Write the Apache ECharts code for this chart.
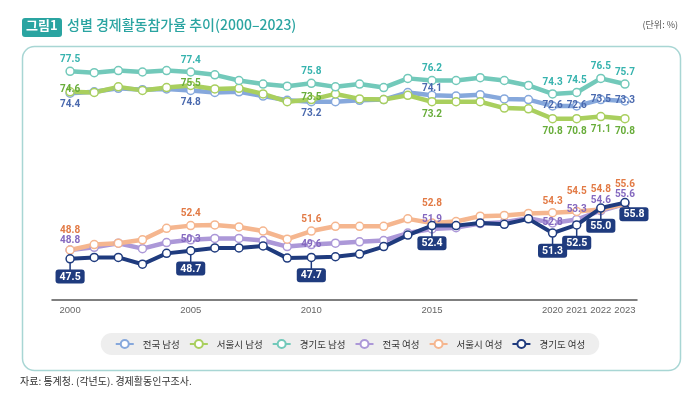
<!DOCTYPE html>
<html>
<head>
<meta charset="utf-8">
<script src="https://cdn.jsdelivr.net/npm/echarts@6/dist/echarts.min.js"></script>
<style>
html, body { margin: 0; padding: 0; background: #fff; }
#chart { width: 700px; height: 397px; }
</style>
</head>
<body>
<div id="chart"></div>
<script>
// 연도 및 표시할 라벨 연도
var years = [2000, 2001, 2002, 2003, 2004, 2005, 2006, 2007, 2008, 2009, 2010, 2011,
             2012, 2013, 2014, 2015, 2016, 2017, 2018, 2019, 2020, 2021, 2022, 2023];
var labelYears = [2000, 2005, 2010, 2015, 2020, 2021, 2022, 2023];

// 남성
var maleNation   = [74.4, 74.6, 75.1, 74.9, 75.0, 74.8, 74.5, 74.6, 74.0, 73.4, 73.2, 73.2,
                    73.4, 73.5, 74.5, 74.1, 74.0, 74.2, 73.6, 73.5, 72.6, 72.6, 73.5, 73.3];
var maleSeoul    = [74.6, 74.5, 75.3, 74.8, 75.2, 75.5, 75.0, 75.1, 74.3, 73.2, 73.5, 74.3,
                    73.6, 73.5, 74.1, 73.2, 73.2, 73.2, 72.3, 72.2, 70.8, 70.8, 71.1, 70.8];
var maleGyeonggi = [77.5, 77.3, 77.6, 77.4, 77.6, 77.4, 77.0, 76.2, 75.7, 75.4, 75.8, 75.3,
                    75.7, 75.2, 76.5, 76.2, 76.2, 76.6, 76.2, 75.5, 74.3, 74.5, 76.5, 75.7];
// 여성
var femaleNation   = [48.8, 49.2, 49.8, 49.0, 49.9, 50.3, 50.5, 50.5, 50.2, 49.3, 49.6, 49.8,
                      50.0, 50.2, 51.3, 51.9, 52.1, 52.7, 52.9, 53.5, 52.8, 53.3, 54.6, 55.6];
var femaleSeoul    = [48.8, 49.6, 49.8, 50.3, 52.0, 52.4, 52.5, 52.2, 51.6, 50.4, 51.6, 52.3,
                      52.3, 52.3, 53.4, 52.8, 53.0, 53.8, 53.9, 54.2, 54.3, 54.5, 54.8, 55.6];
var femaleGyeonggi = [47.5, 47.7, 47.7, 46.7, 48.3, 48.7, 49.1, 49.1, 49.4, 47.6, 47.7, 47.8,
                      48.2, 49.3, 51.0, 52.4, 52.4, 52.8, 52.6, 53.4, 51.3, 52.5, 55.0, 55.8];

var seriesNames = ['전국 남성', '서울시 남성', '경기도 남성', '전국 여성', '서울시 여성', '경기도 여성'];

var numFont = 'Roboto';
var krFont = '"Noto Sans CJK KR", "Noto Sans", sans-serif';

function build (vals, place) {
    return years.map(function (y, i) {
        var item = { value: [y, vals[i]] };
        if (labelYears.indexOf(y) >= 0) {
            item.label = Object.assign({ show: true }, place(y));
        }
        return item;
    });
}

function mkSeries (name, vals, idx, lineColor, textColor, place) {
    return {
        name: name,
        type: 'line',
        xAxisIndex: idx,
        yAxisIndex: idx,
        data: build(vals, place),
        symbol: 'circle',
        symbolSize: 8,
        lineStyle: { color: lineColor, width: 4.5 },
        itemStyle: { color: '#fff', borderColor: lineColor, borderWidth: 1.5 },
        emphasis: { disabled: true },
        label: {
            show: false,
            color: textColor,
            fontSize: 10,
            fontWeight: 'bold',
            fontFamily: numFont,
            formatter: function (p) { return p.value[1].toFixed(1); }
        }
    };
}

var stacked = [2000, 2015, 2021, 2022, 2023];

var series = [
    mkSeries('전국 남성', maleNation, 0, '#86A8DC', '#4A69AE', function (y) {
        if (y <= 2010) return { position: 'bottom', distance: 2 };
        if (y === 2015) return { position: 'inside', offset: [0, -7] };
        return { position: 'inside' };
    }),
    mkSeries('서울시 남성', maleSeoul, 0, '#A9CF5E', '#68AD3A', function (y) {
        if (y <= 2010) return { position: 'inside', offset: [0, -2] };
        return { position: 'bottom', distance: 3 };
    }),
    mkSeries('경기도 남성', maleGyeonggi, 0, '#72C9BA', '#36B3AE', function (y) {
        return { position: 'top', distance: 2 };
    }),
    mkSeries('전국 여성', femaleNation, 1, '#AC98D8', '#8468BF', function (y) {
        if (stacked.indexOf(y) >= 0) return { position: 'top', distance: 0 };
        return { position: 'inside' };
    }),
    mkSeries('서울시 여성', femaleSeoul, 1, '#F5B68F', '#E27A45', function (y) {
        if (stacked.indexOf(y) >= 0) return { position: 'top', distance: 10 };
        return { position: 'top', distance: 2 };
    }),
    mkSeries('경기도 여성', femaleGyeonggi, 1, '#1F3B7E', '#fff', function (y) {
        if (y === 2023) return { position: 'bottom', distance: 4, offset: [9, -4] };
        return { position: 'bottom', distance: 6 };
    })
];
// 경기도 여성 라벨 박스
series[5].z = 4;
series[5].lineStyle.width = 4;
series[5].label.backgroundColor = '#1F3B7E';
series[5].label.padding = [2, 4, 1, 4];
series[5].label.borderRadius = 3;
series[5].label.fontSize = 10.5;
series[5].labelLine = { show: true, length2: 0, lineStyle: { color: '#1F3B7E', width: 1.5 } };

var chart = echarts.init(document.getElementById('chart'));
chart.setOption({
    backgroundColor: '#fff',
    animation: false,
    legend: {
        data: seriesNames,
        left: 'center',
        top: 333,
        backgroundColor: '#EEEEEE',
        borderRadius: 12,
        padding: [6, 14],
        itemWidth: 18,
        itemHeight: 10,
        itemGap: 9,
        textStyle: { fontSize: 9.5, color: '#333', fontFamily: krFont, padding: [0, 0, 0, 4] }
    },
    grid: [
        { left: 52, right: 63, top: 60.7, height: 70.7 },
        { left: 52, right: 63, top: 191.1, height: 108.3 }
    ],
    xAxis: [
        { type: 'value', gridIndex: 0, min: 1999.25, max: 2023.5, show: false },
        {
            type: 'value', gridIndex: 1, min: 1999.25, max: 2023.5,
            splitLine: { show: false },
            axisTick: { show: false },
            axisLine: { show: true, onZero: false, lineStyle: { color: '#555', width: 1.5 } },
            axisLabel: {
                customValues: labelYears,
                color: '#666',
                fontSize: 9.5,
                fontFamily: '"Liberation Sans", sans-serif',
                margin: 6,
                hideOverlap: false,
                formatter: function (v) { return String(v); }
            }
        }
    ],
    yAxis: [
        { type: 'value', gridIndex: 0, min: 69, max: 79, show: false },
        { type: 'value', gridIndex: 1, min: 41.5, max: 57.5, show: false }
    ],
    graphic: [
        {
            type: 'rect', left: 20, top: 44, z: -1,
            shape: { width: 658, height: 324, r: 12 },
            style: { fill: 'none', stroke: '#A8D6D4', lineWidth: 1.5 }
        },
        {
            type: 'rect', left: 22, top: 18,
            shape: { width: 40, height: 19, r: 3 },
            style: { fill: '#2AA4A1' }
        },
        {
            type: 'text', left: 26, top: 19,
            style: { text: '그림1', fill: '#fff', font: 'bold 13px ' + krFont }
        },
        {
            type: 'text', left: 67, top: 18,
            style: { text: '성별 경제활동참가율 추이(2000–2023)', fill: '#2AA4A1', font: '500 14px ' + krFont }
        },
        {
            type: 'text', right: 22, top: 20,
            style: { text: '(단위: %)', fill: '#555', font: '9px ' + krFont }
        },
        {
            type: 'text', left: 20, top: 376,
            style: { text: '자료: 통계청. (각년도). 경제활동인구조사.', fill: '#333', font: '10px ' + krFont }
        }
    ],
    series: series
});
</script>
</body>
</html>
